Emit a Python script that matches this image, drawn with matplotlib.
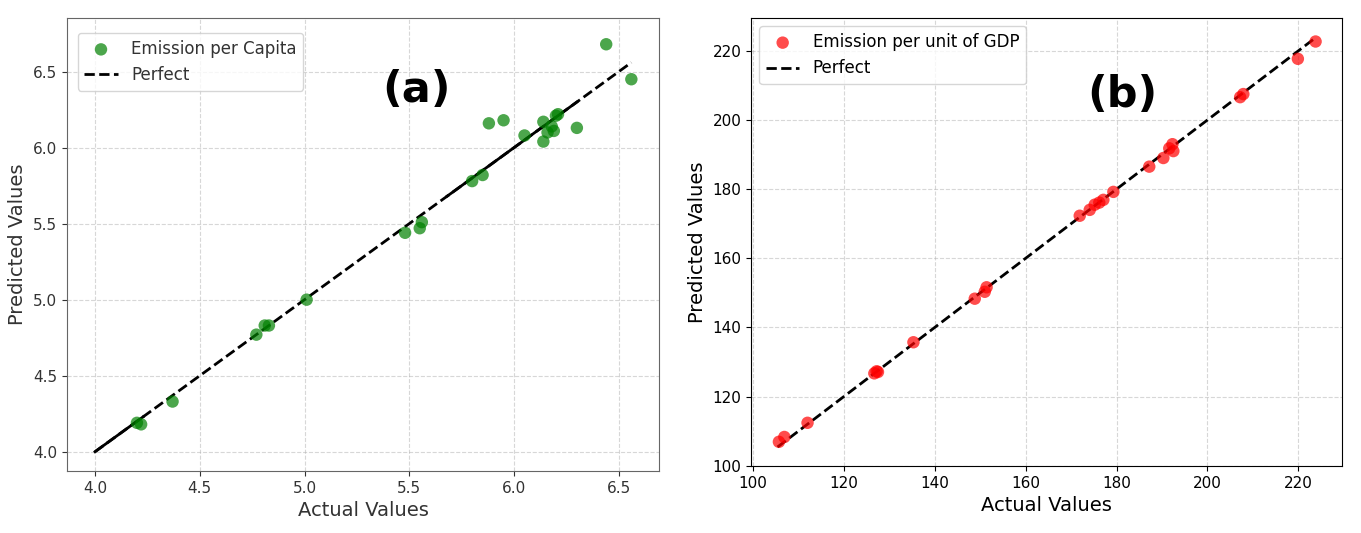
import matplotlib
matplotlib.use("Agg")
import matplotlib.pyplot as plt

# (a) emission per capita
capita_actual = [4.20, 4.22, 4.37, 4.77, 4.81, 4.83, 5.01, 5.48, 5.55, 5.56,
                 5.80, 5.85, 5.88, 5.95, 6.05, 6.14, 6.14, 6.16, 6.18, 6.19,
                 6.20, 6.21, 6.30, 6.44, 6.56]
capita_pred = [4.19, 4.18, 4.33, 4.77, 4.83, 4.83, 5.00, 5.44, 5.47, 5.51,
               5.78, 5.82, 6.16, 6.18, 6.08, 6.04, 6.17, 6.10, 6.14, 6.11,
               6.21, 6.22, 6.13, 6.68, 6.45]
capita_line = [4.0, 6.56]
capita_solid = [(4.0, 4.23), (5.68, 6.30)]

# (b) emission per unit of GDP
gdp_actual = [105.7, 106.9, 112.0, 126.7, 127.2, 127.5, 135.3, 148.8, 151.0,
              151.4, 171.9, 174.1, 175.2, 176.2, 177.1, 179.3, 187.2, 190.3,
              191.6, 192.3, 192.5, 207.2, 207.9, 219.9, 223.8]
gdp_pred = [106.9, 108.3, 112.4, 126.7, 127.3, 127.1, 135.7, 148.3, 150.3,
            151.6, 172.3, 174.0, 175.5, 176.1, 176.9, 179.2, 186.5, 189.0,
            191.8, 193.0, 191.0, 206.6, 207.5, 217.7, 222.7]
gdp_line = [105.4, 223.8]

fig = plt.figure(figsize=(13.61, 5.33), dpi=100)

# left panel
ax1 = fig.add_axes([0.0492, 0.1163, 0.435, 0.85])
ax1.scatter(capita_actual, capita_pred, color="green", alpha=0.7, s=80,
            edgecolors="none", label="Emission per Capita", zorder=3)
ax1.plot(capita_line, capita_line, "k--", lw=2, label="Perfect", zorder=2)
for lo, hi in capita_solid:
    ax1.plot([lo, hi], [lo, hi], color="k", lw=2, zorder=2)
ax1.set_xlim(3.866, 6.692)
ax1.set_ylim(3.873, 6.853)
ax1.set_xlabel("Actual Values", fontsize=14, color="#333333")
ax1.set_ylabel("Predicted Values", fontsize=14, color="#333333")
ax1.grid(True, linestyle="--", alpha=0.5)
ax1.tick_params(labelsize=11, colors="#333333")
for sp in ax1.spines.values():
    sp.set_color("#666666")
leg = ax1.legend(loc="upper left", fontsize=12, bbox_to_anchor=(0.004, 0.985))
for t in leg.get_texts():
    t.set_color("#333333")
ax1.text(0.59, 0.84, "(a)", transform=ax1.transAxes, fontsize=31,
         fontweight="bold", ha="center", va="center")

# right panel
ax2 = fig.add_axes([0.5518, 0.1257, 0.4342, 0.8405])
ax2.scatter(gdp_actual, gdp_pred, color="red", alpha=0.7, s=80,
            edgecolors="none", label="Emission per unit of GDP", zorder=3)
ax2.plot(gdp_line, gdp_line, "k--", lw=2, label="Perfect", zorder=2)
ax2.set_xlim(99.56, 229.6)
ax2.set_ylim(99.9, 229.5)
ax2.set_xlabel("Actual Values", fontsize=14)
ax2.set_ylabel("Predicted Values", fontsize=14)
ax2.grid(True, linestyle="--", alpha=0.5)
ax2.tick_params(labelsize=11)
ax2.legend(loc="upper left", fontsize=12)
ax2.text(0.628, 0.828, "(b)", transform=ax2.transAxes, fontsize=31,
         fontweight="bold", ha="center", va="center")

fig.savefig("out.png", dpi=100)
